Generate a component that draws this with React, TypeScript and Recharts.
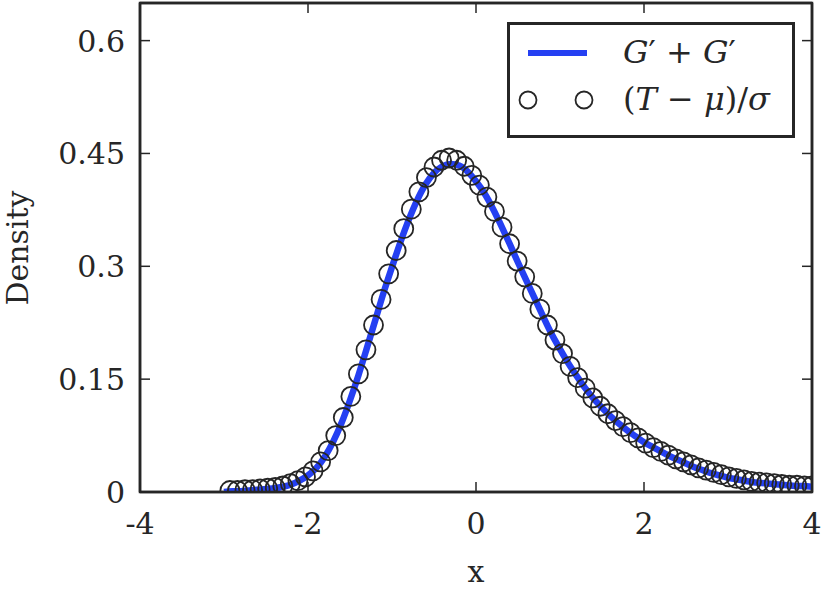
import React from "react";
import {
  ComposedChart,
  Line,
  ReferenceArea,
  Scatter,
  XAxis,
  YAxis,
} from "recharts";

// fitted density (blue line)
const LINE_X = [
  -3.0, -2.9, -2.8, -2.7, -2.6, -2.5, -2.4, -2.3, -2.2, -2.1, -2.0, -1.9, -1.8,
  -1.7, -1.6, -1.5, -1.4, -1.3, -1.2, -1.1, -1.0, -0.9, -0.8, -0.7, -0.6, -0.5,
  -0.4, -0.3, -0.2, -0.1, 0.0, 0.1, 0.2, 0.3, 0.4, 0.5, 0.6, 0.7, 0.8, 0.9, 1.0,
  1.1, 1.2, 1.3, 1.4, 1.5, 1.6, 1.7, 1.8, 1.9, 2.0, 2.1, 2.2, 2.3, 2.4, 2.5, 2.6,
  2.7, 2.8, 2.9, 3.0, 3.1, 3.2, 3.3, 3.4, 3.5, 3.6, 3.7, 3.8, 3.9, 4.0,
];
const LINE_Y = [
  0.0, 0.001, 0.001, 0.002, 0.003, 0.004, 0.005, 0.007, 0.01, 0.015, 0.022,
  0.032, 0.047, 0.067, 0.092, 0.122, 0.155, 0.191, 0.228, 0.265, 0.299, 0.332,
  0.362, 0.388, 0.409, 0.424, 0.433, 0.436, 0.434, 0.426, 0.413, 0.397, 0.377,
  0.354, 0.33, 0.305, 0.281, 0.257, 0.233, 0.21, 0.19, 0.171, 0.154, 0.138,
  0.124, 0.112, 0.101, 0.091, 0.082, 0.074, 0.066, 0.06, 0.054, 0.048, 0.043,
  0.038, 0.033, 0.029, 0.025, 0.022, 0.019, 0.017, 0.015, 0.013, 0.012, 0.011,
  0.01, 0.009, 0.008, 0.008, 0.007,
];

// empirical density of (T - mu)/sigma (circles)
const DOT_X = [
  -2.93, -2.84, -2.75, -2.66, -2.57, -2.48, -2.39, -2.3, -2.21, -2.12, -2.03,
  -1.94, -1.85, -1.76, -1.67, -1.58, -1.49, -1.4, -1.31, -1.22, -1.13, -1.04,
  -0.95, -0.86, -0.77, -0.68, -0.59, -0.5, -0.41, -0.32, -0.23, -0.14, -0.05,
  0.04, 0.13, 0.22, 0.31, 0.4, 0.49, 0.58, 0.67, 0.76, 0.85, 0.94, 1.03, 1.12,
  1.21, 1.3, 1.39, 1.48, 1.57, 1.66, 1.75, 1.84, 1.93, 2.02, 2.11, 2.2, 2.29,
  2.38, 2.47, 2.56, 2.65, 2.74, 2.83, 2.92, 3.01, 3.1, 3.19, 3.28, 3.37, 3.46,
  3.55, 3.64, 3.73, 3.82, 3.91, 4.0,
];
const DOT_Y = [
  0.002, 0.002, 0.003, 0.003, 0.004, 0.005, 0.006, 0.008, 0.011, 0.015, 0.02,
  0.028, 0.04, 0.055, 0.075, 0.099, 0.127, 0.157, 0.189, 0.222, 0.256, 0.29,
  0.321, 0.35, 0.376, 0.399, 0.418, 0.432, 0.441, 0.444, 0.441, 0.433, 0.421,
  0.408, 0.392, 0.373, 0.352, 0.33, 0.307, 0.286, 0.264, 0.243, 0.222, 0.202,
  0.184, 0.167, 0.152, 0.138, 0.125, 0.114, 0.104, 0.095, 0.087, 0.079, 0.072,
  0.065, 0.059, 0.054, 0.049, 0.044, 0.04, 0.036, 0.032, 0.029, 0.026, 0.023,
  0.02, 0.018, 0.016, 0.014, 0.013, 0.012, 0.011, 0.01, 0.009, 0.009, 0.008,
  0.008,
];

const X_TICKS = [-4, -2, 0, 2, 4];
const Y_TICKS = [0, 0.15, 0.3, 0.45, 0.6];

const lineData = LINE_X.map((x, i) => ({ x, y: LINE_Y[i] }));
const dotData = DOT_X.map((x, i) => ({ x, y: DOT_Y[i] }));

const INK = "#262626";
const BLUE = "#2540f2";
const FONT = "'DejaVu Serif', serif";
const TICK_LEN = 10;

const BottomTick = ({ x, y, payload }: any) => (
  <g>
    <line x1={x} y1={y} x2={x} y2={y - TICK_LEN} stroke={INK} strokeWidth={1.5} />
    <text x={x} y={y + 42} textAnchor="middle" fontFamily={FONT} fontSize={30} fill={INK}>
      {String(payload.value)}
    </text>
  </g>
);

const TopTick = ({ x, y }: any) => (
  <line x1={x} y1={y} x2={x} y2={y + TICK_LEN} stroke={INK} strokeWidth={1.5} />
);

const LeftTick = ({ x, y, payload }: any) => (
  <g>
    <line x1={x} y1={y} x2={x + TICK_LEN} y2={y} stroke={INK} strokeWidth={1.5} />
    <text x={x - 15} y={y + 11} textAnchor="end" fontFamily={FONT} fontSize={30} fill={INK}>
      {String(payload.value)}
    </text>
  </g>
);

const RightTick = ({ x, y }: any) => (
  <line x1={x} y1={y} x2={x - TICK_LEN} y2={y} stroke={INK} strokeWidth={1.5} />
);

const DensityLabel = () => (
  <text
    x={28}
    y={248}
    transform="rotate(-90, 28, 248)"
    textAnchor="middle"
    fontFamily={FONT}
    fontSize={30}
    fill={INK}
  >
    Density
  </text>
);

const Ring = ({ cx, cy }: any) => (
  <circle cx={cx} cy={cy} r={9.5} fill="none" stroke={INK} strokeWidth={1.8} />
);

function LegendBox() {
  return (
    <div
      style={{
        position: "absolute",
        left: 507,
        top: 22,
        width: 282,
        height: 110,
        border: `3px solid ${INK}`,
        background: "#fff",
        fontFamily: FONT,
        fontSize: 32,
        color: INK,
      }}
    >
      <svg width={100} height={110} style={{ position: "absolute", left: 0, top: 0 }}>
        <line x1={18} y1={28} x2={77} y2={28} stroke={BLUE} strokeWidth={6} />
        <circle cx={18} cy={75} r={8.5} fill="none" stroke={INK} strokeWidth={1.8} />
        <circle cx={74} cy={75} r={8.5} fill="none" stroke={INK} strokeWidth={1.8} />
      </svg>
      <div style={{ position: "absolute", left: 113, top: 8, whiteSpace: "nowrap" }}>
        <i>G</i>′ + <i>G</i>′
      </div>
      <div style={{ position: "absolute", left: 113, top: 55, whiteSpace: "nowrap" }}>
        (<i>T</i> − <i>μ</i>)/<i>σ</i>
      </div>
    </div>
  );
}

export default function App() {
  return (
    <div style={{ position: "absolute", left: 0, top: 0, width: 824, height: 596, background: "#fff" }}>
      <ComposedChart
        width={824}
        height={596}
        margin={{ top: 2, right: 11, bottom: 0, left: 0 }}
      >
        <XAxis
          dataKey="x"
          type="number"
          domain={[-4, 4]}
          ticks={X_TICKS}
          allowDataOverflow
          height={104}
          tickSize={0}
          tickMargin={0}
          tick={<BottomTick />}
          axisLine={{ stroke: INK, strokeWidth: 2.5 }}
          label={{ value: "x", position: "insideBottom", offset: 14, fontFamily: FONT, fontSize: 30, fill: INK }}
        />
        <XAxis
          xAxisId="top"
          dataKey="x"
          orientation="top"
          type="number"
          domain={[-4, 4]}
          ticks={X_TICKS}
          allowDataOverflow
          height={1}
          tickSize={0}
          tickMargin={0}
          tick={<TopTick />}
          axisLine={{ stroke: INK, strokeWidth: 2.5 }}
        />
        <YAxis
          dataKey="y"
          type="number"
          domain={[0, 0.65]}
          ticks={Y_TICKS}
          allowDataOverflow
          width={140}
          tickSize={0}
          tickMargin={0}
          tick={<LeftTick />}
          axisLine={{ stroke: INK, strokeWidth: 2.5 }}
          label={<DensityLabel />}
        />
        <YAxis
          yAxisId="right"
          dataKey="y"
          orientation="right"
          type="number"
          domain={[0, 0.65]}
          ticks={Y_TICKS}
          allowDataOverflow
          width={1}
          tickSize={0}
          tickMargin={0}
          tick={<RightTick />}
          axisLine={{ stroke: INK, strokeWidth: 2.5 }}
        />
        <ReferenceArea
          x1={-4}
          x2={4}
          y1={0}
          y2={0.65}
          fill="none"
          stroke={INK}
          strokeWidth={2.5}
          ifOverflow="visible"
        />
        <Line
          data={lineData}
          dataKey="y"
          type="monotone"
          stroke={BLUE}
          strokeWidth={6.5}
          dot={false}
          activeDot={false}
          isAnimationActive={false}
        />
        <Scatter
          data={dotData}
          dataKey="y"
          xAxisId="top"
          yAxisId="right"
          shape={<Ring />}
          isAnimationActive={false}
        />
      </ComposedChart>
      <LegendBox />
    </div>
  );
}
